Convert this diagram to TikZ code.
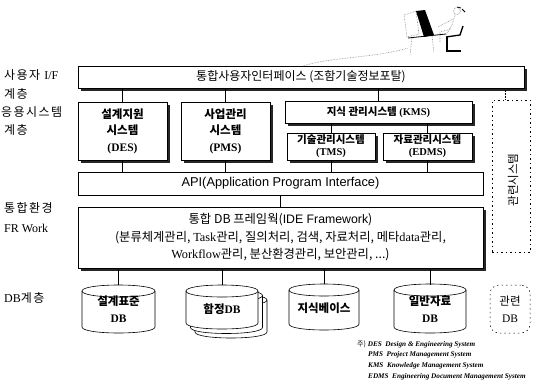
\documentclass[tikz,border=0pt]{standalone}
\usepackage{fontspec}
\setmainfont{Noto Sans CJK KR}
\newfontfamily\krwide{Noto Sans CJK KR}[LetterSpace=12]
\newfontfamily\serifl{Liberation Serif}
\newfontfamily\sansl{Liberation Sans}
\usetikzlibrary{shadows}

% database cylinder: centre x, top-ellipse y, bottom-ellipse y, half width, ellipse half height
\newcommand\dbcyl[5]{%
  \filldraw[fill=white, line width=0.6pt]
    ({#1-#4},#2) -- ({#1-#4},#3)
    .. controls ({#1-#4},{#3+1.333*#5}) and ({#1+#4},{#3+1.333*#5}) .. ({#1+#4},#3)
    -- ({#1+#4},#2)
    .. controls ({#1+#4},{#2-1.333*#5}) and ({#1-#4},{#2-1.333*#5}) .. ({#1-#4},#2) -- cycle;
  \draw[line width=0.6pt] ({#1-#4},#2)
    .. controls ({#1-#4},{#2+1.333*#5}) and ({#1+#4},{#2+1.333*#5}) .. ({#1+#4},#2);}

\begin{document}
\begin{tikzpicture}[x=1pt, y=-1pt,
  box/.style={draw, line width=0.7pt, fill=white, align=center, inner sep=1pt},
  shd/.style={drop shadow={shadow xshift=3pt, shadow yshift=-3pt, fill=black!85, opacity=1}},
  link/.style={line width=0.5pt},
  lbl/.style={anchor=west, inner sep=0pt, font=\krwide\fontsize{12}{14}\selectfont},
  dashbox/.style={draw, line width=0.5pt, dash pattern=on 1.5pt off 3pt},
  dbtext/.style={align=center, inner sep=0pt, minimum width=72pt, minimum height=48pt,
                 font=\bfseries\fontsize{11.5}{17}\selectfont},
  note/.style={anchor=west, inner sep=0pt, font=\serifl\bfseries\itshape\fontsize{7.2}{8}\selectfont},
]
\useasboundingbox (0,0) rectangle (537,388);

% layer labels on the left
\node[lbl] (l1) at (4,75) {사용자 {\serifl I/F}};
\node[lbl] (l2) at (4,94) {계층};
\node[lbl] (l3) at (1,112) {응용시스템};
\node[lbl] (l4) at (4,130) {계층};
\node[lbl] (l5) at (4,208) {통합환경};
\node[lbl] (l6) at (4,228) {\serifl FR Work};
\node[lbl] (l7) at (4,298) {{\serifl DB}계층};

% portal, application systems, API, framework
\node[box, shd, minimum width=446pt, minimum height=22pt, font=\fontsize{12}{13}\selectfont]
  (ui) at (301,77) {통합사용자인터페이스 (조함기술정보포탈)};
\node[box, shd, minimum width=89pt, minimum height=58pt, font=\bfseries\fontsize{11.5}{16.5}\selectfont]
  (des) at (122.5,131) {설계지원\\시스템\\{\serifl\bfseries (DES)}};
\node[box, shd, minimum width=89pt, minimum height=58pt, font=\bfseries\fontsize{11.5}{16.5}\selectfont]
  (pms) at (225.5,131) {사업관리\\시스템\\{\serifl\bfseries (PMS)}};
\node[box, shd, minimum width=187pt, minimum height=22pt, font=\bfseries\fontsize{10.5}{12}\selectfont]
  (kms) at (378.5,112) {지식 관리시스템 {\serifl\bfseries (KMS)}};
\node[box, shd, minimum width=88pt, minimum height=27pt, font=\bfseries\fontsize{10.5}{12}\selectfont]
  (tms) at (331,146.5) {기술관리시스템\\{\serifl\bfseries (TMS)}};
\node[box, shd, minimum width=89pt, minimum height=27pt, font=\bfseries\fontsize{10.5}{12}\selectfont]
  (edms) at (427.5,146.5) {자료관리시스템\\{\serifl\bfseries (EDMS)}};
\node[box, minimum width=405pt, minimum height=23pt, font=\sansl\fontsize{12.8}{14}\selectfont]
  (api) at (280.5,183.5) {API(Application Program Interface)};
\node[box, shd, minimum width=405pt, minimum height=61pt, font=\fontsize{12.3}{17.5}\selectfont]
  (ide) at (280.5,237.5)
  {통합 DB 프레임웍({\sansl IDE Framework})\\
   (분류체계관리, {\serifl Task}관리, 질의처리, 검색, 자료처리, 메타{\serifl data}관리,\\
   {\serifl Workflow}관리, 분산환경관리, 보안관리, ...)};

% related systems (dashed)
\node[dashbox, minimum width=38pt, minimum height=152pt] (rel) at (511,176) {};
\node[rotate=90, inner sep=0pt, font=\fontsize{11.5}{12}\selectfont] (reltxt) at (513,180) {관련시스템};

% connectors between layers
\draw[link] (ui.south -| des) -- (des.north);
\draw[link] (ui.south -| pms) -- (pms.north);
\draw[link] (ui.south -| kms) -- (kms.north);
\draw[link, densely dotted] ([xshift=-6pt]rel.north |- ui.south) -- ([xshift=-6pt]rel.north);
\draw[link] (kms.south -| tms) -- (tms.north);
\draw[link] (kms.south -| edms) -- (edms.north);
\draw[link] (des.south) -- (api.north -| des);
\draw[link] (pms.south) -- (api.north -| pms);
\draw[link] (tms.south) -- (api.north -| tms);
\draw[link] (edms.south) -- (api.north -| edms);
\draw[link] (api.south) -- (ide.north);

% database layer
\dbcyl{118.5}{291}{327}{36.5}{6}
\node[dbtext] (db1) at (118.5,309) {설계표준\\{\serifl\bfseries DB}};
\dbcyl{231}{300}{332}{36}{6}
\dbcyl{226.5}{295.5}{327.5}{36}{6}
\dbcyl{222}{291}{323}{36}{6}
\node[dbtext] (db2) at (222,309) {함정{\serifl\bfseries DB}};
\dbcyl{324}{290}{324}{35}{6}
\node[dbtext] (db3) at (324,308) {지식베이스};
\dbcyl{430}{290}{327}{36}{6}
\node[dbtext] (db4) at (430,309) {일반자료\\{\serifl\bfseries DB}};
\node[dashbox, rounded corners=9pt, minimum width=40pt, minimum height=48pt, align=center,
      font=\fontsize{11.5}{17}\selectfont] (db5) at (510,309) {관련\\{\serifl DB}};

\draw[link] (ide.south -| db1) -- (db1.north);
\draw[link] (ide.south -| db2) -- (db2.north);
\draw[link] (ide.south -| db3) -- (db3.north);
\draw[link] (ide.south -| db4) -- (db4.north);

% user at a workstation above the portal
\coordinate (tap) at (303,66);
\coordinate (usr) at (408,48);
\draw[gray, densely dotted, line width=0.6pt] (tap) .. controls (330,57) and (375,58) .. (usr);
\draw[gray, densely dotted, line width=0.6pt] (404,15) -- (416,11) -- (419,34) -- (407,37) -- cycle;
\fill[black] (416,11) -- (425,10) -- (434,35) -- (424,37) -- cycle;
\draw[line width=0.8pt] (408,38) -- (446,34);
\draw[gray, densely dotted, line width=0.6pt] (412,38) -- (410,55);
\draw[gray, densely dotted, line width=0.6pt] (432,36) -- (434,53);
\draw[line width=1.3pt] (447,37) -- (447,51) -- (461,51);
\draw[line width=1.3pt] (446,37) -- (460,35) -- (463,26);
\draw[gray, densely dotted, line width=0.6pt] (457,11) circle (3.5);
\draw[gray, densely dotted, line width=0.6pt] (455,15) -- (452,25) -- (446,35);
\draw[gray, densely dotted, line width=0.6pt] (453,19) -- (438,27);
\draw[gray, densely dotted, line width=0.6pt] (451,29) -- (440,32) -- (440,42);
\draw[line width=0.8pt] (457,7) -- (461,8) (462,9) -- (465,12);

% footnote
\node[note] (n1) at (357,344) {{\normalfont\fontsize{7}{8}\selectfont 주)} DES\enspace Design \& Engineering System};
\node[note] (n2) at (368,355) {PMS\enspace Project Management System};
\node[note] (n3) at (368,366) {KMS\enspace Knowledge Management System};
\node[note] (n4) at (368,377) {EDMS\enspace Engineering Document Management System};
\end{tikzpicture}
\end{document}
